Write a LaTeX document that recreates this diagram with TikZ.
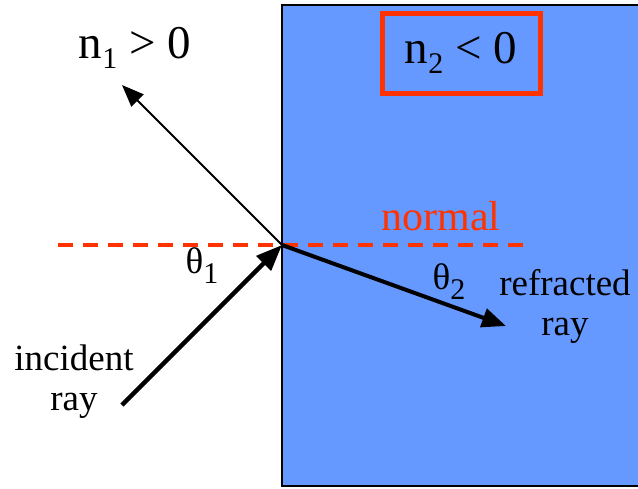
\documentclass[tikz,border=0pt]{standalone}
\usepackage{fontspec}
\setmainfont{Liberation Serif}
\usetikzlibrary{arrows.meta}
\definecolor{medium}{HTML}{6699FF}
\definecolor{redor}{HTML}{FF3300}
\tikzset{
  big/.style={font=\fontsize{47}{50}\selectfont, inner sep=0pt},
  mid/.style={font=\fontsize{37}{40}\selectfont, inner sep=0pt, align=center},
  ray/.style={line width=4.5pt, -{Triangle[length=26pt,width=20pt]}},
  thinray/.style={line width=2pt, -{Triangle[length=22pt,width=17pt]}},
}
\newcommand{\sbs}[1]{\raisebox{-10pt}{\fontsize{30}{30}\selectfont #1}}
\begin{document}
\begin{tikzpicture}[x=1pt,y=-1pt]
\useasboundingbox (0,0) rectangle (638,488);
\fill[medium] (282,5) rectangle (641,486);
\draw[line width=2pt] (641,5) -- (282,5) -- (282,486) -- (641,486);
\coordinate (P) at (282,245);
\coordinate (R) at (122,85);
\coordinate (I) at (122,405);
\coordinate (F) at (506,326);
\coordinate (NL) at (58,245);
\coordinate (NR) at (525,245);
\draw[redor, line width=4pt, dash pattern=on 15pt off 10pt] (NL) -- (NR);
\draw[thinray] (P) -- (R);
\draw[ray] (I) -- (P);
\draw[line width=4pt, -{Triangle[length=24pt,width=19pt]}] (P) -- (F);
\node[big] (n1) at (135,48) {n\sbs{1} > 0};
\node[big, draw=redor, line width=5pt, minimum width=158pt, minimum height=80pt] (n2) at (461,53) {n\sbs{2} < 0};
\node[font=\fontsize{42}{44}\selectfont, text=redor, inner sep=0pt] (normal) at (441,216) {normal};
\node[mid] (t1) at (202,266) {θ\sbs{1}};
\node[mid] (t2) at (449,282) {θ\sbs{2}};
\node[mid] (inc) at (74,382) {incident\\ray};
\node[mid] (refr) at (565,306) {refracted\\ray};
\end{tikzpicture}
\end{document}
